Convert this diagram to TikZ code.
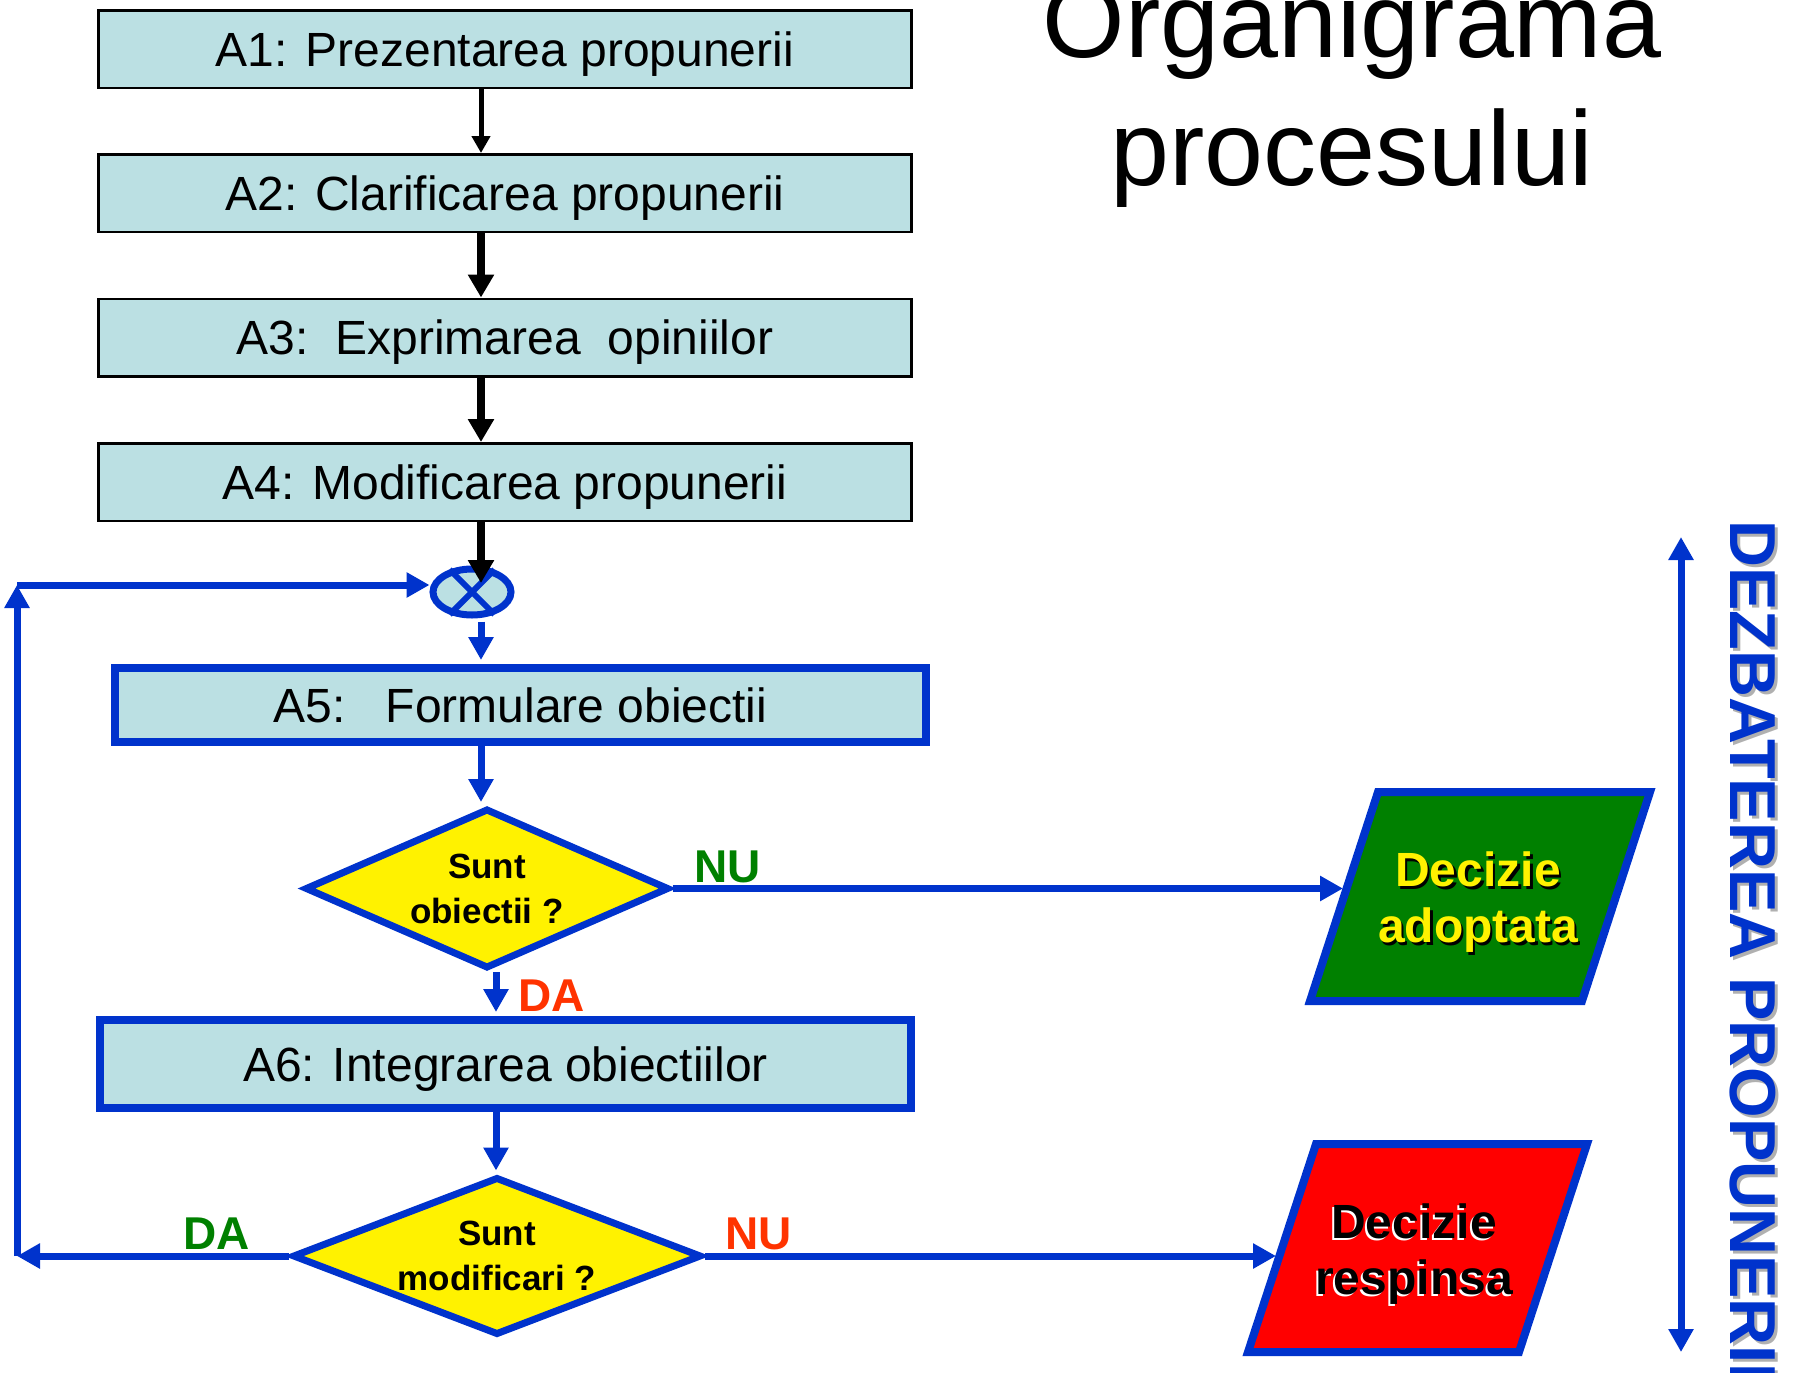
\documentclass[tikz,border=0pt]{standalone}
\usepackage{fontspec}
\setmainfont{Liberation Sans}
\usetikzlibrary{arrows.meta,shapes.geometric,calc}
\definecolor{boxfill}{HTML}{BBE0E3}
\definecolor{myblue}{HTML}{0033CC}
\definecolor{dgreen}{HTML}{008000}
\definecolor{lred}{HTML}{FF3300}
\definecolor{shgray}{HTML}{B0B0B0}
\begin{document}
\begin{tikzpicture}[x=1pt,y=-1pt,
  box/.style={draw=black, line width=2.5pt, fill=boxfill, minimum width=813pt, minimum height=77.5pt,
    inner sep=0pt, font=\fontsize{48}{56}\selectfont, text height=34pt, text depth=0pt},
  bluebox/.style={box, draw=myblue, line width=8pt, minimum width=811pt},
  dec/.style={diamond, draw=myblue, fill=yellow, line width=7pt, inner sep=0pt, align=center,
    font=\bfseries\fontsize{35}{45}\selectfont},
  barr/.style={-{Triangle[length=23pt,width=25pt]}, line width=8pt, draw=black},
  barrthin/.style={-{Triangle[length=17pt,width=18pt]}, line width=5pt, draw=black},
  blarr/.style={-{Triangle[length=23pt,width=24pt]}, line width=7pt, draw=myblue},
  lab/.style={font=\bfseries\fontsize{46}{50}\selectfont, inner sep=0pt, anchor=base west},
  dectext/.style={font=\bfseries\fontsize{48}{56}\selectfont, align=center, inner sep=0pt},
  para/.style={draw=myblue, line width=8pt, line join=miter}
]
\useasboundingbox (0,0) rectangle (1794,1373);

% title
\node[anchor=base, inner sep=0pt, font=\fontsize{106}{128}\selectfont] (t1) at (1352,57) {Organigrama};
\node[anchor=base, inner sep=0pt, font=\fontsize{106}{128}\selectfont] (t2) at (1352,185) {procesului};

% boxes
\node[box] (A1) at (505,49) {A1: Prezentarea propunerii};
\node[box] (A2) at (505,193) {A2: Clarificarea propunerii};
\node[box] (A3) at (505,337.5) {A3:\ \ Exprimarea\ \ opiniilor};
\node[box] (A4) at (505,482) {A4: Modificarea propunerii};
\node[bluebox, minimum height=74pt] (A5) at (520.5,705) {A5:\ \ \ Formulare obiectii};
\node[bluebox, minimum height=88pt] (A6) at (505.5,1064) {A6: Integrarea obiectiilor};

% summing junction
\node[ellipse, draw=myblue, fill=boxfill, line width=7pt, minimum width=78pt, minimum height=46pt, inner sep=0pt] (sum) at (472,592) {};
\draw[myblue, line width=6pt] (sum.135) -- (sum.-45) (sum.45) -- (sum.-135);

% decisions
\node[dec, aspect=2.28, minimum width=364pt, minimum height=160pt] (d1) at (487,888.5) {Sunt\\obiectii ?};
\node[dec, aspect=2.6, minimum width=409pt, minimum height=158pt] (d2) at (497,1256) {Sunt\\modificari ?};

% parallelograms
\coordinate (g1) at (1310,1001); \coordinate (g2) at (1582,1001);
\coordinate (g3) at (1650,792);  \coordinate (g4) at (1378,792);
\draw[para, fill=dgreen] (g1) -- (g2) -- (g3) -- (g4) -- cycle;
\coordinate (r1) at (1248,1352); \coordinate (r2) at (1519,1352);
\coordinate (r3) at (1587,1144); \coordinate (r4) at (1316,1144);
\draw[para, fill=red] (r1) -- (r2) -- (r3) -- (r4) -- cycle;

\node[dectext, text=black] (gsh) at (1480.5,905) {Decizie\\adoptata};
\node[dectext, text=yellow] (gt) at (1478,902.5) {Decizie\\adoptata};
\node[dectext, text=white] (rsh) at (1412,1256.5) {Decizie\\respinsa};
\node[dectext, text=black] (rt) at (1414,1254) {Decizie\\respinsa};

% helper coordinates
\coordinate (ax) at (481,0);
\coordinate (bx) at (496,0);
\coordinate (sumin) at (481,583);
\coordinate (gin) at (1343,888.5);
\coordinate (rin) at (1276,1256);
\coordinate (c1) at (17,1256);
\coordinate (c2) at (17,585);
\coordinate (va1) at (1681,537);
\coordinate (va2) at (1681,1352);

% black connectors
\draw[barrthin] (A1.south -| ax) -- (A2.north -| ax);
\draw[barr] (A2.south -| ax) -- (A3.north -| ax);
\draw[barr] (A3.south -| ax) -- (A4.north -| ax);
\draw[barr] (A4.south -| ax) -- (sumin);

% blue connectors
\draw[blarr, shorten <=3pt] (sum.south -| ax) -- ([yshift=4pt]A5.north -| ax);
\draw[blarr] (A5.south -| ax) -- ([yshift=3pt]d1.north -| ax);
\draw[blarr] (d1.south -| bx) -- ([yshift=4pt]A6.north -| bx);
\draw[blarr] (A6.south -| bx) -- ([yshift=3pt]d2.north -| bx);
\draw[blarr] (d1.east) -- (gin);
\draw[blarr] (d2.east) -- (rin);
\draw[blarr] (d2.west) -- (c1);
\draw[blarr] (c1) -- (c2);
\draw[blarr] (c2) -- (c2 -| sum.west);

% labels
\node[lab, text=dgreen] (nu1) at (694,882) {NU};
\node[lab, text=lred] (da1) at (518,1011) {DA};
\node[lab, text=dgreen] (da2) at (183,1249) {DA};
\node[lab, text=lred] (nu2) at (725,1249) {NU};

% side arrow and text
\draw[{Triangle[length=23pt,width=24pt]}-{Triangle[length=23pt,width=24pt]}, line width=7pt, draw=myblue] (va1) -- (va2);
\node[rotate=-90, anchor=base west, inner sep=0pt, text=shgray, font=\bfseries\fontsize{65}{70}\selectfont] (vsh) at (1733,523) {DEZBATEREA PROPUNERII};
\node[rotate=-90, anchor=base west, inner sep=0pt, text=myblue, font=\bfseries\fontsize{65}{70}\selectfont] (vt) at (1730,520) {DEZBATEREA PROPUNERII};
\end{tikzpicture}
\end{document}
